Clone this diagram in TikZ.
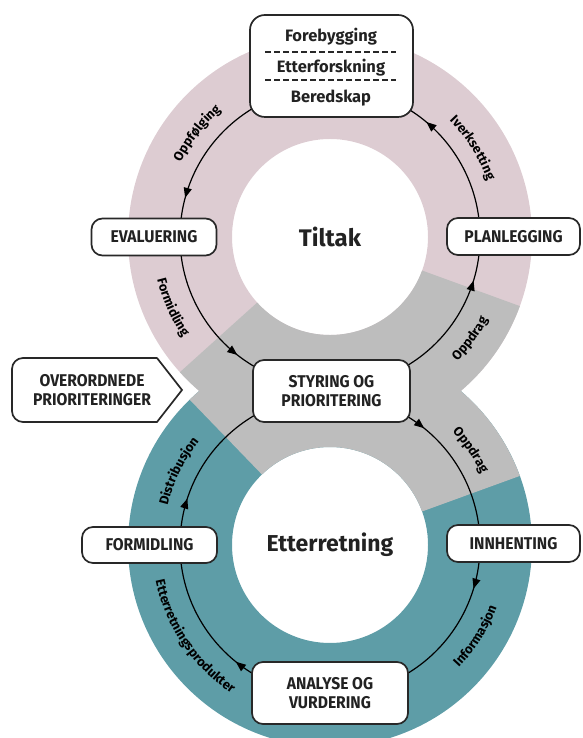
\documentclass[tikz,border=0pt]{standalone}
\usepackage{fontspec}
\setmainfont{Fira Sans}
\newfontfamily\boxfont[FakeStretch=0.92]{Fira Sans}
\newfontfamily\subfont{Fira Sans}
\usetikzlibrary{decorations.text, decorations.markings, arrows.meta}
\definecolor{pinkring}{RGB}{221,204,210}
\definecolor{greyring}{RGB}{189,189,189}
\definecolor{tealring}{RGB}{94,157,167}
\definecolor{boxline}{RGB}{40,40,40}
\definecolor{textdark}{RGB}{34,34,34}
\newcommand\lblfont{\fontsize{13}{15}\selectfont\bfseries}
\tikzset{
  stage/.style={draw=boxline, line width=1.7pt, fill=white, rounded corners=11pt,
    font=\boxfont\bfseries\fontsize{17}{19}\selectfont, text=textdark, align=center, inner sep=0pt},
  plain/.style={font=\subfont\bfseries\fontsize{16.5}{19}\selectfont, text=textdark, align=center, inner sep=0pt},
  flowline/.style={draw=black, line width=1.2pt},
  upperlbl/.style={decorate, decoration={text along path, text align=center, text={|\lblfont|#1}}},
  lowerlbl/.style={decorate, decoration={text along path, text align=center, text={|\lblfont|#1}}},
}
\begin{document}
\begin{tikzpicture}[x=1pt,y=1pt]
\useasboundingbox (0,0) rectangle (582,738);
\coordinate (ct) at (330,501);
\coordinate (cb) at (330,193);
% rings
\fill[pinkring, even odd rule] (ct) circle[radius=202] (ct) circle[radius=98];
\fill[tealring, even odd rule] (cb) circle[radius=202] (cb) circle[radius=98];
% grey sectors (steering part)
\fill[greyring] ([shift={(-138:202)}]ct) arc[start angle=-138, end angle=-20, radius=202]
  -- ([shift={(-20:98)}]ct) arc[start angle=-20, end angle=-138, radius=98] -- cycle;
\fill[greyring] ([shift={(20:202)}]cb) arc[start angle=20, end angle=134, radius=202]
  -- ([shift={(134:98)}]cb) arc[start angle=134, end angle=20, radius=98] -- cycle;
% flow circles
\draw[flowline, postaction={decorate}, decoration={markings,
   mark=at position 0.139 with {\arrow{Triangle[length=10pt,width=8pt]}},
   mark=at position 0.458 with {\arrow{Triangle[length=10pt,width=8pt]}},
   mark=at position 0.644 with {\arrow{Triangle[length=10pt,width=8pt]}},
   mark=at position 0.953 with {\arrow{Triangle[length=10pt,width=8pt]}}}]
  ([shift={(0:150)}]ct) arc[start angle=0, end angle=360, radius=150];
\draw[flowline, postaction={decorate}, decoration={markings,
   mark=at position 0.047 with {\arrow{Triangle[length=10pt,width=8pt]}},
   mark=at position 0.358 with {\arrow{Triangle[length=10pt,width=8pt]}},
   mark=at position 0.55 with {\arrow{Triangle[length=10pt,width=8pt]}},
   mark=at position 0.858 with {\arrow{Triangle[length=10pt,width=8pt]}}}]
  ([shift={(360:150)}]cb) arc[start angle=360, end angle=0, radius=150];
% arc labels, top ring
\path[upperlbl=Oppfølging] ([shift={(182:167)}]ct) arc[start angle=182, end angle=102, radius=167];
\path[upperlbl=Iverksetting] ([shift={(72:167)}]ct) arc[start angle=72, end angle=-8, radius=167];
\path[lowerlbl=Formidling] ([shift={(164:178)}]ct) arc[start angle=164, end angle=244, radius=178];
\path[lowerlbl=Oppdrag] ([shift={(-76:178)}]ct) arc[start angle=-76, end angle=4, radius=178];
% arc labels, bottom ring
\path[upperlbl=Oppdrag] ([shift={(74:167)}]cb) arc[start angle=74, end angle=-6, radius=167];
\path[upperlbl=Distribusjon] ([shift={(194:167)}]cb) arc[start angle=194, end angle=114, radius=167];
\path[lowerlbl=Informasjon] ([shift={(-72:178)}]cb) arc[start angle=-72, end angle=8, radius=178];
\path[lowerlbl=Etterretningsprodukter] ([shift={(166:178)}]cb) arc[start angle=166, end angle=262, radius=178];
% centre titles
\node[font=\bfseries\fontsize{24}{28}\selectfont, text=textdark] (tiltak) at (ct) {Tiltak};
\node[font=\bfseries\fontsize{23}{28}\selectfont, text=textdark] (etterretning) at (cb) {Etterretning};
% boxes
\node[stage, minimum width=163pt, minimum height=102pt, rounded corners=15pt] (topbox) at (331.5,672) {};
\node[plain] (forebygging) at (331,701) {Forebygging};
\node[plain] (etterforskning) at (331,670) {Etterforskning};
\node[plain] (beredskap) at (331,640) {Beredskap};
\draw[boxline, line width=1.5pt, dash pattern=on 6pt off 3pt] (265,686) -- (396,686);
\draw[boxline, line width=1.5pt, dash pattern=on 6pt off 3pt] (265,658) -- (396,658);
\node[stage, minimum width=125pt, minimum height=37pt] (evaluering) at (154,501) {EVALUERING};
\node[stage, minimum width=133pt, minimum height=37pt] (planlegging) at (513.5,501.5) {PLANLEGGING};
\node[stage, minimum width=135pt, minimum height=36pt] (formidling) at (149.5,193) {FORMIDLING};
\node[stage, minimum width=133pt, minimum height=37pt] (innhenting) at (513.5,194.5) {INNHENTING};
\node[stage, minimum width=157pt, minimum height=62pt] (styring) at (331.5,347) {STYRING OG\\PRIORITERING};
\node[stage, minimum width=156pt, minimum height=62pt] (analyse) at (330,45) {ANALYSE OG\\VURDERING};
% overordnede
\draw[draw=boxline, line width=1.7pt, fill=white] (157,380) -- (182,348) -- (157,316)
   [rounded corners=11pt] -- (12,316) -- (12,380) -- (157,380);
\node[stage, draw=none, fill=none] (overordnede) at (92,348) {OVERORDNEDE\\PRIORITERINGER};
\end{tikzpicture}
\end{document}
